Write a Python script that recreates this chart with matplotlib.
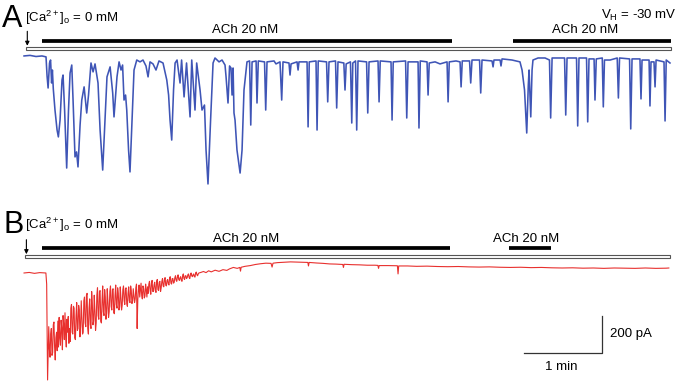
import numpy as np
import matplotlib.pyplot as plt
from matplotlib.patches import Rectangle
from matplotlib.transforms import blended_transform_factory

plt.rcParams['font.family'] = ['Liberation Sans', 'DejaVu Sans']
plt.rcParams['mathtext.fontset'] = 'custom'
plt.rcParams['mathtext.rm'] = 'Liberation Sans'
plt.rcParams['mathtext.it'] = 'Liberation Sans:italic'

# --- panel A: current trace (time in s, current in pA) ---
a_t = [0.0, 4.6, 9.2, 13.8, 16.9, 17.7, 18.5, 19.6, 20.4, 21.2, 21.8, 22.5, 23.8, 25.4, 26.4, 27.7,
       29.2, 30.0, 31.2, 32.8, 34.2, 35.4, 36.7, 37.7, 39.2, 40.4, 41.5, 43.1, 44.4, 46.2, 48.2, 49.6,
       51.5, 53.1, 54.6, 56.9, 58.5, 60.5, 62.3, 63.8, 66.2, 68.2, 69.2, 70.8, 71.5, 73.1, 74.6, 75.8,
       76.9, 78.1, 79.0, 80.4, 81.5, 83.1, 84.6, 86.7, 89.2, 91.5, 93.8, 95.4, 96.9, 99.2, 101.5, 103.8,
       106.9, 109.8, 111.2, 112.3, 113.6, 115.0, 116.2, 117.7, 120.0, 121.2, 123.1, 125.0, 127.7, 129.0,
       131.5, 132.8, 135.4, 136.9, 138.8, 140.0, 141.5, 143.5, 145.4, 146.9, 150.0, 152.3, 154.6, 155.4,
       156.9, 158.1, 159.2, 160.0, 160.8, 161.5, 162.3, 163.8, 166.2, 167.7, 169.2, 171.5, 173.5, 174.4,
       175.4, 178.5, 179.2, 180.2, 185.0, 185.9, 186.9, 192.3, 193.8, 196.9, 198.2, 199.2, 203.8, 204.6,
       205.4, 210.0, 210.8, 211.5, 217.7, 218.5, 219.4, 224.6, 225.4, 226.3, 232.7, 233.6, 234.6, 239.6,
       240.5, 241.5, 246.0, 246.9, 247.8, 251.1, 252.1, 252.9, 255.0, 255.9, 256.9, 263.5, 264.4, 265.4,
       272.3, 273.1, 274.0, 282.3, 283.1, 284.0, 293.5, 294.4, 295.4, 303.1, 303.8, 304.8, 310.0, 310.8,
       311.7, 316.2, 320.0, 325.4, 326.2, 327.1, 332.3, 335.4, 336.2, 337.1, 342.7, 343.6, 344.6, 350.4,
       351.3, 352.3, 360.0, 360.8, 361.5, 366.2, 366.9, 367.7, 375.4, 381.5, 383.1, 385.0, 386.7, 387.9,
       388.5, 389.8, 390.8, 391.5, 395.4, 400.8, 404.2, 405.1, 406.2, 415.8, 416.7, 417.7, 425.0, 425.9,
       426.9, 432.7, 433.6, 434.6, 438.5, 439.2, 440.2, 444.8, 445.6, 446.5, 450.8, 456.3, 457.2, 458.1,
       465.8, 466.7, 467.7, 473.8, 474.6, 475.4, 480.8, 481.5, 482.3, 484.6, 485.4, 486.2, 489.2, 492.3,
       493.1, 494.0, 496.9]
a_i = [0, 3, -3, 0, -5, -108, -173, -38, -22, -146, -76, -178, -292, -400, -437, -346,
       -130, -103, -292, -605, -292, -92, -49, -238, -545, -518, -599, -373, -238, -167, -308, -211,
       -38, -86, -43, -146, -400, -616, -346, -113, -59, -200, -329, -184, -113, -32, -76, -49,
       -238, -211, -292, -508, -626, -346, -76, -22, -32, -22, -54, -113, -32, -43, -76, -27,
       -38, -130, -211, -346, -454, -184, -38, -22, -146, -22, -221, -38, -329, -22,
       -292, -38, -184, -292, -265, -508, -691, -346, -38, -11, -32, -22, -49, -113,
       -254, -54, -65, -211, -65, -308, -346, -508, -632, -508, -184, -32, -27, -373,
       -32, -27, -254, -27, -32, -292, -32, -27, -43, -32, -238, -32, -38, -103,
       -43, -32, -76, -32, -32, -383, -32, -27, -400, -27, -32, -248, -32, -27,
       -281, -32, -38, -184, -43, -32, -362, -38, -27, -400, -27, -32, -308, -32,
       -27, -248, -27, -32, -346, -32, -27, -335, -32, -32, -389, -27, -32, -211,
       -38, -32, -43, -32, -248, -32, -27, -32, -167, -27, -27, -146, -22, -22,
       -200, -22, -27, -59, -22, -22, -54, -16, -22, -32, -76, -184, -416, -157,
       -76, -329, -76, -22, -11, -11, -22, -335, -11, -11, -319, -11, -11, -378,
       -11, -11, -356, -16, -16, -238, -16, -11, -275, -22, -22, -11, -227, -11,
       -16, -394, -16, -16, -232, -22, -22, -270, -32, -32, -167, -22, -27, -32,
       -351, -22, -38]

# --- panel B: current trace ---
b_head_t = [0, 4, 8, 12, 16.8, 17.4, 18.1, 18.6]
b_head_i = [0, 3, -2, 2, 0, -60, -578, -420]
b_noise_t0 = 19    # s
b_noise_dt = 0.5   # s, sample interval of the noisy stretch
b_noise_i = [-290, -410, -455, -330, -300, -445, -430, -280, -265, -400, -470, -350, -320,
             -420, -260, -400, -240, -350, -390, -255, -300, -415, -230, -280, -360, -215, -340, -400, -250, -320, -235, -380, -300,
             -370, -190, -170, -320, -330, -180, -190, -350, -360, -230, -160, -310, -300, -175, -200, -345, -290, -150, -240, -330,
             -320, -150, -130, -270, -290, -120, -110, -300, -330, -190, -140, -280, -300, -100, -160, -280, -260, -120, -200, -310,
             -270, -120, -80, -230, -250, -100, -95, -260, -270, -150, -70, -210, -230, -90, -130, -250, -220, -85, -150, -240,
             -210, -100, -70, -180, -200, -90, -85, -215, -220, -120, -65, -170, -190, -80, -110, -200, -185, -75, -130, -200,
             -175, -90, -70, -150, -170, -85, -80, -165, -180, -110, -75, -150, -160, -70, -95, -165, -150, -85, -120, -160,
             -140, -80, -60, -300, -145, -90, -65, -130, -95, -55, -120, -140, -70, -85, -135, -125, -60, -90, -130, -75,
             -110, -60, -45, -95, -115, -55, -40, -100, -100, -65, -50, -95, -105, -45, -35, -90, -95, -50, -45, -100,
             -80, -45, -30, -70, -75, -35, -25, -65, -70, -40, -35, -60, -65, -25, -20, -55, -60, -30, -30, -55,
             -50, -25, -15, -40, -45, -20, -10, -35, -40, -25, -20, -40, -45, -15, -5, -30, -35, -15, -15, -30,
             -25, -10, -5, -25, -30, -10, 0, -15, -20, -10, -5, -20, -22, 0, 5, -10, -15, -5, 0]
b_tail_t = [136, 138, 140, 142, 144, 147, 150, 153, 156, 158, 161, 164, 166, 166.5, 167, 170, 174,
            178, 182, 186, 190, 190.8, 191.5, 195, 200, 205, 210, 215, 218.3, 218.8, 219.3, 225,
            230, 235, 240, 245.2, 245.7, 246.2, 252, 258, 264, 270, 272.2, 272.7, 273.2, 280,
            287.2, 287.7, 288.2, 295, 302, 310, 318, 326, 334, 342, 350, 358, 366, 374, 382, 390,
            398, 406, 414, 422, 430, 438, 446, 454, 462, 470, 478, 486, 494, 496]
b_tail_i = [3, 8, 2, 12, 6, 15, 9, 18, 14, 22, 30, 25, 30, 10, 31, 36, 40,
            46, 50, 53, 52, 32, 53, 56, 58, 60, 59, 58, 57, 38, 57, 54,
            52, 49, 48, 46, 30, 47, 45, 44, 42, 42, 41, 25, 40, 40,
            39, -5, 38, 38, 36, 37, 35, 34, 35, 33, 32, 33, 31, 30, 31, 29,
            30, 28, 27, 28, 26, 27, 25, 27, 26, 25, 27, 25, 26, 27]

# drug applications (s)
ach_a = [(14, 329), (376, 498)]
ca0_a = (1.5, 497.4)
ach_b = [(14, 328), (373, 405)]
ca0_b = (0.8, 497)

b_t = np.concatenate([b_head_t, b_noise_t0 + b_noise_dt * np.arange(len(b_noise_i)), b_tail_t])
b_i = np.concatenate([b_head_i, b_noise_i, b_tail_i])

W, H = 680, 382
fig = plt.figure(figsize=(W / 100, H / 100), dpi=100)


def fx(x):
    return x / W


def fy(y):
    return 1 - y / H


ax_a = fig.add_axes([0, 0.5, 1, 0.5])
ax_b = fig.add_axes([0, 0, 1, 0.5])
for ax in (ax_a, ax_b):
    ax.set_xlim(-18.5, 504.6)
    ax.axis('off')
ax_a.set_ylim(-729, 302)
ax_b.set_ylim(-589, 443)

ax_a.plot(a_t, a_i, color='#3F55B6', lw=1.15)
ax_b.plot(b_t, b_i, color='#E8302E', lw=0.8)


def bars(ax, ach, ca0, y_ach, y_ca):
    tr = blended_transform_factory(ax.transData, fig.transFigure)
    for t0, t1 in ach:
        ax.plot([t0, t1], [fy(y_ach)] * 2, transform=tr, color='black', lw=2.7,
                solid_capstyle='butt', clip_on=False)
    ax.add_patch(Rectangle((ca0[0], fy(y_ca + 1.7)), ca0[1] - ca0[0], 3.4 / H, transform=tr,
                           facecolor='white', edgecolor='#555555', lw=0.8, clip_on=False))
    ax.annotate('', xy=(ca0[0] + 1, fy(y_ca - 2.5)), xytext=(ca0[0] + 1, fy(y_ca - 17)),
                xycoords=tr, textcoords=tr,
                arrowprops=dict(arrowstyle='-|>', color='black', lw=0.8, mutation_scale=6,
                                shrinkA=0, shrinkB=0))


bars(ax_a, ach_a, ca0_a, 41.3, 48.3)
bars(ax_b, ach_b, ca0_b, 248.3, 256.7)

fs = 9.5
fig.text(fx(2), fy(26.7), 'A', fontsize=22, va='baseline')
fig.text(fx(3), fy(233), 'B', fontsize=22, va='baseline')
ca_label = r'[Ca$^{2+}$]$_\mathrm{o}$ = 0 mM'
fig.text(fx(25), fy(21.7), ca_label, fontsize=fs, va='baseline')
fig.text(fx(25), fy(229.5), ca_label, fontsize=fs, va='baseline')
fig.text(fx(677), fy(19.3), r'V$_\mathrm{H}$ = -30 mV', fontsize=fs, va='baseline', ha='right')
fig.text(fx(245), fy(33.3), 'ACh 20 nM', fontsize=fs, va='baseline', ha='center')
fig.text(fx(585.5), fy(33.3), 'ACh 20 nM', fontsize=fs, va='baseline', ha='center')
fig.text(fx(246), fy(242), 'ACh 20 nM', fontsize=fs, va='baseline', ha='center')
fig.text(fx(526.5), fy(242), 'ACh 20 nM', fontsize=fs, va='baseline', ha='center')

# scale bars: 1 min, 200 pA
sb_t, sb_i = 444.4, -430
ax_b.plot([sb_t - 60, sb_t, sb_t], [sb_i, sb_i, sb_i + 200], color='#333333', lw=0.9, clip_on=False)
ax_b.text(sb_t + 6.5, sb_i + 100, '200 pA', fontsize=fs, va='center', ha='left')
ax_b.text(sb_t - 31, sb_i - 76, '1 min', fontsize=fs, va='center', ha='center')

fig.savefig('out.png', dpi=100)
